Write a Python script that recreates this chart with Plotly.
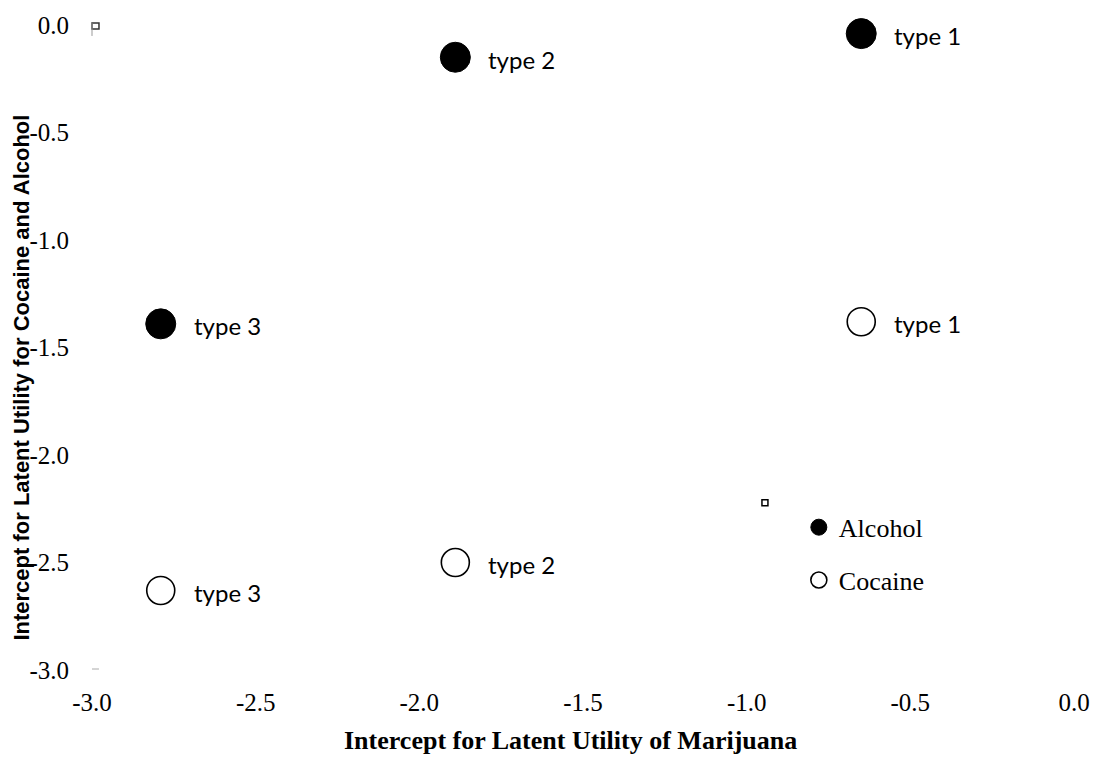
import plotly.graph_objects as go

# Latent-class intercepts: marijuana (x) vs cocaine / alcohol (y)
types = ["type 1", "type 2", "type 3"]
marijuana = [-0.65, -1.89, -2.79]
alcohol = [-0.04, -0.15, -1.39]
cocaine = [-1.38, -2.50, -2.63]

x_ticks = [-3.0, -2.5, -2.0, -1.5, -1.0, -0.5, 0.0]
y_ticks = [0.0, -0.5, -1.0, -1.5, -2.0, -2.5, -3.0]

serif = "Liberation Serif, Times New Roman, serif"
sans = "Lato, Open Sans, sans-serif"

L, R, T, B = 92, 25, 22, 91
W, H = 1102, 761
PW, PH = W - L - R, H - T - B


def px_x(p):
    return (p - L) / PW


def px_y(p):
    return (H - B - p) / PH


fig = go.Figure()

fig.add_trace(go.Scatter(
    x=marijuana, y=alcohol, mode="markers", name="Alcohol",
    legendgroup="a",
    marker=dict(symbol="circle", size=30, color="black",
                line=dict(color="black", width=1)),
    cliponaxis=False,
))
fig.add_trace(go.Scatter(
    x=marijuana, y=cocaine, mode="markers", name="Cocaine",
    legendgroup="c",
    marker=dict(symbol="circle", size=28, color="white",
                line=dict(color="black", width=1.6)),
    cliponaxis=False,
))

# point labels to the right of each marker
for xs, ys in ((marijuana, alcohol), (marijuana, cocaine)):
    for t, xv, yv in zip(types, xs, ys):
        fig.add_annotation(x=xv, y=yv, text=t, showarrow=False,
                           xanchor="left", yanchor="middle", xshift=31, yshift=-2,
                           font=dict(family=sans, size=24, color="black"))

fig.add_annotation(xref="paper", yref="paper", x=px_x(572), y=px_y(741),
                   text="<b>Intercept for Latent Utility of Marijuana</b>",
                   showarrow=False, xanchor="center", yanchor="middle",
                   font=dict(family=serif, size=26, color="black"))
fig.add_annotation(xref="paper", yref="paper", x=px_x(21), y=px_y(376),
                   text="<b>Intercept for Latent Utility for Cocaine and Alcohol</b>",
                   showarrow=False, textangle=-90, xanchor="center", yanchor="middle",
                   font=dict(family="Liberation Sans, Arial, sans-serif", size=22, color="black"))

# small marks left by the legend frame and axis ends
fig.add_shape(type="rect", xref="paper", yref="paper",
              x0=px_x(764), x1=px_x(770), y0=px_y(505), y1=px_y(499),
              line=dict(color="black", width=1.5), fillcolor="white")
fig.add_shape(type="rect", xref="paper", yref="paper",
              x0=px_x(92), x1=px_x(99), y0=px_y(26), y1=px_y(20),
              line=dict(color="#333333", width=1.5), fillcolor="white")
fig.add_shape(type="line", xref="paper", yref="paper",
              x0=px_x(92), x1=px_x(92), y0=px_y(33), y1=px_y(20),
              line=dict(color="#999999", width=1))
fig.add_shape(type="line", xref="paper", yref="paper",
              x0=px_x(92), x1=px_x(99), y0=px_y(669), y1=px_y(669),
              line=dict(color="#aaaaaa", width=1))

fig.update_layout(
    width=W, height=H,
    margin=dict(l=L, r=R, t=T, b=B),
    paper_bgcolor="white", plot_bgcolor="white",
    showlegend=True,
    legend=dict(x=px_x(801), y=px_y(503), xanchor="left", yanchor="top",
                bgcolor="rgba(0,0,0,0)", tracegroupgap=16,
                itemsizing="trace",
                font=dict(family=serif, size=26, color="black")),
    xaxis=dict(range=[-3, 0], tickvals=x_ticks,
               ticktext=[f"{v:.1f}" for v in x_ticks],
               showgrid=False, zeroline=False, showline=False, ticks="",
               ticklabelstandoff=15,
               tickfont=dict(family=serif, size=25, color="black")),
    yaxis=dict(range=[-3, 0], tickvals=y_ticks,
               ticktext=[f"{v:.1f}" for v in y_ticks],
               showgrid=False, zeroline=False, showline=False, ticks="",
               ticklabelstandoff=22,
               tickfont=dict(family=serif, size=25, color="black")),
)

fig.write_html("out.html")
